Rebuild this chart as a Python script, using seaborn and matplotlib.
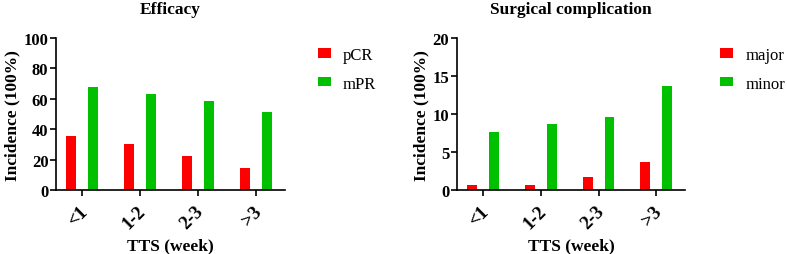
import numpy as np
import pandas as pd
import matplotlib.pyplot as plt
import matplotlib.transforms as mtrans
import seaborn as sns

# TTS (tjedni) i incidencija u %
tts = ['<1', '1-2', '2-3', '>3']
pcr = [35.5, 30.5, 22.6, 14.4]
mpr = [67.5, 63.5, 58.4, 51.3]
major = [0.66, 0.66, 1.68, 3.66]
minor = [7.64, 8.65, 9.67, 13.64]

sns.set_style('ticks')
plt.rcParams['font.family'] = ['Liberation Serif', 'DejaVu Serif']
plt.rcParams['text.color'] = 'black'
plt.rcParams['axes.labelcolor'] = 'black'
plt.rcParams['xtick.color'] = 'black'
plt.rcParams['ytick.color'] = 'black'

boja = ['#FF0000', '#00C000']


def crtaj(fig, ax, a, b, imena, naslov, ymax, korak, leg_x):
    df = pd.DataFrame({
        'TTS': tts * 2,
        'val': a + b,
        'grupa': [imena[0]] * 4 + [imena[1]] * 4,
    })
    sns.barplot(data=df, x='TTS', y='val', hue='grupa', palette=boja,
                width=0.76, gap=0.55, ax=ax, saturation=1, edgecolor='none')
    ax.set_xlim(-0.45, 3.5)
    ax.set_ylim(0, ymax)
    ax.set_yticks(np.arange(0, ymax + 1, korak))
    ax.set_title(naslov, fontsize=12.5, fontweight='bold', pad=18)
    ax.set_xlabel('TTS (week)', fontsize=12.5, fontweight='bold', labelpad=4)
    ax.set_ylabel('Incidence (100%)', fontsize=12.5, fontweight='bold', labelpad=2)
    for s in ['top', 'right']:
        ax.spines[s].set_visible(False)
    for s in ['left', 'bottom']:
        ax.spines[s].set_linewidth(1.2)
        ax.spines[s].set_color('black')
    ax.tick_params(axis='both', width=1.2, length=4, labelsize=12, pad=1.5)
    ax.tick_params(axis='x', pad=9, labelsize=13.5)
    for t in ax.get_yticklabels():
        t.set_fontweight('bold')
    pomak = mtrans.ScaledTranslation(3 / 100, 0, fig.dpi_scale_trans)
    for t in ax.get_xticklabels():
        t.set_fontweight('bold')
        t.set_rotation(45)
        t.set_ha('right')
        t.set_va('center')
        t.set_rotation_mode('anchor')
        t.set_transform(t.get_transform() + pomak)
    ax.legend(loc='upper left', bbox_to_anchor=(leg_x, 0.94), frameon=False,
              fontsize=12, handlelength=0.75, handleheight=0.5,
              labelspacing=0.75, handletextpad=0.75, borderpad=0,
              borderaxespad=0)


fig = plt.figure(figsize=(7.87, 2.55), dpi=100)
ax1 = fig.add_axes([0.0712, 0.25, 0.291, 0.597])
ax2 = fig.add_axes([0.5807, 0.25, 0.29, 0.597])

crtaj(fig, ax1, pcr, mpr, ['pCR', 'mPR'], 'Efficacy', 100, 20, 1.144)
crtaj(fig, ax2, major, minor, ['major', 'minor'], 'Surgical complication', 20, 5, 1.153)

fig.savefig('out.png', dpi=100)
